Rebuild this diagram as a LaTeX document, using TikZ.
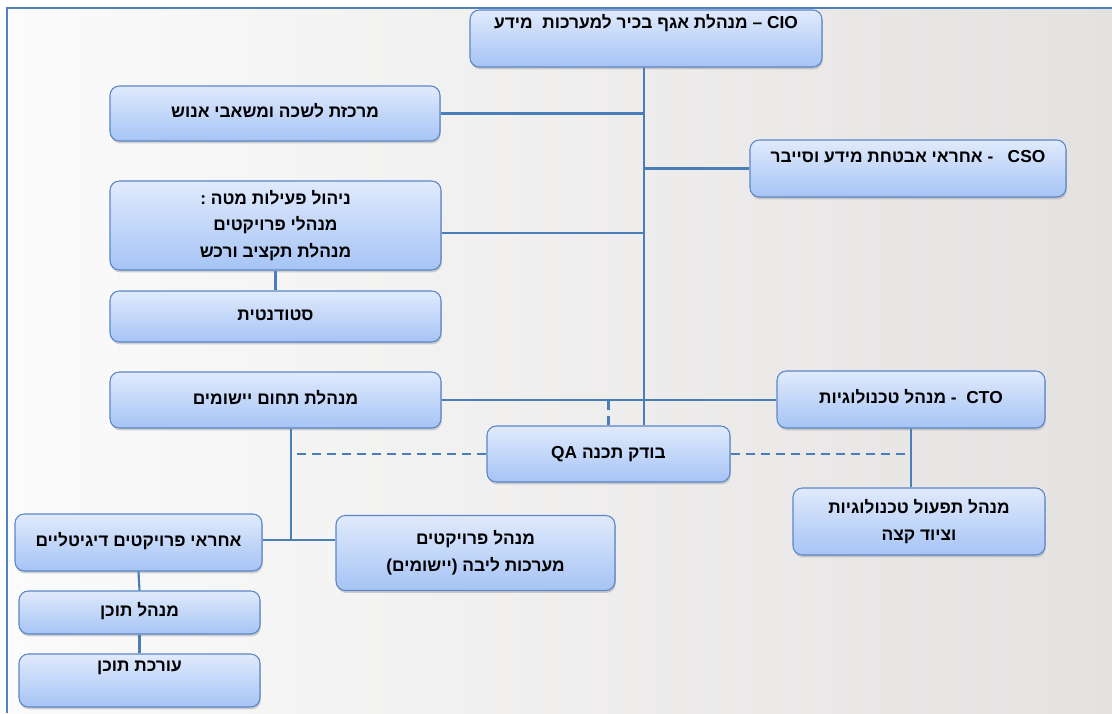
\documentclass[tikz,border=0pt]{standalone}
\usepackage{fontspec}
\setmainfont{Liberation Sans}
\newfontfamily\heb[Script=Hebrew]{Liberation Sans}
\TeXXeTstate=1
\usetikzlibrary{shadows}
\definecolor{bordc}{HTML}{5B86C8}
\definecolor{linec}{HTML}{4A7EBB}
\definecolor{topc}{HTML}{E0EAFC}
\definecolor{botc}{HTML}{A6C4F5}
\definecolor{framec}{HTML}{4F81BD}
\definecolor{bgL}{HTML}{FBFBFB}
\definecolor{bgR}{HTML}{E4E2E1}
\newcommand\heR[1]{\beginR #1\endR}
\newcommand\heL[1]{\beginL #1\endL{}}
\begin{document}
\begin{tikzpicture}[x=0.75pt,y=-0.75pt,
  box/.style={draw=bordc, line width=0.8pt, rounded corners=7pt,
    top color=topc, bottom color=botc,
    drop shadow={shadow xshift=0.6pt, shadow yshift=-1.8pt, opacity=0.35},
    font=\heb\bfseries\fontsize{13}{20}\selectfont, align=center,
    inner sep=0pt, text=black},
  one/.style={text height=9.5pt, text depth=3pt},
  conn/.style={draw=linec, line width=1.6pt},
  dashc/.style={conn, dash pattern=on 6.75pt off 4.5pt}]
\useasboundingbox (0,0) rectangle (1112,713);
\fill[white] (0,0) rectangle (1112,713);
\shade[left color=bgL, right color=bgR] (7,8) rectangle (1112,713);
\draw[framec, line width=1.2pt] (7,713) -- (7,8) -- (1112,8);

\coordinate (tx) at (644,0);
\coordinate (j) at (291,540);

\node[box, one, minimum width=264pt, minimum height=42.75pt, text depth=24pt] (cio) at (646,38.5)
  {\heR{\heL{CIO} – מנהלת אגף בכיר למערכות\ \ מידע}};
\node[box, one, minimum width=247.5pt, minimum height=41.25pt] (mrk) at (275,113.5)
  {\heR{מרכזת לשכה ומשאבי אנוש}};
\node[box, one, minimum width=237pt, minimum height=42.75pt, text depth=18.2pt] (cso) at (908,168.5)
  {\heR{\heL{CSO}\ \ \ - אחראי אבטחת מידע וסייבר}};
\node[box, minimum width=248.25pt, minimum height=66.75pt] (mateh) at (275.5,225.5)
  {\heR{ניהול פעילות מטה :}\\\heR{מנהלי פרויקטים}\\\heR{מנהלת תקציב ורכש}};
\node[box, one, minimum width=248.25pt, minimum height=38.25pt] (stud) at (275.5,316.5)
  {\heR{סטודנטית}};
\node[box, one, minimum width=248.25pt, minimum height=42pt] (app) at (275.5,400)
  {\heR{מנהלת תחום יישומים}};
\node[box, one, minimum width=201pt, minimum height=42.75pt] (cto) at (911,399.5)
  {\heR{\heL{CTO}\ \ - מנהל טכנולוגיות}};
\node[box, one, minimum width=182.25pt, minimum height=42pt] (qa) at (608.5,454)
  {\heR{בודק תכנה \heL{QA}}};
\node[box, minimum width=189pt, minimum height=50.25pt] (ops) at (919,521.5)
  {\heR{מנהל תפעול טכנולוגיות}\\\heR{וציוד קצה}};
\node[box, minimum width=209.25pt, minimum height=56.25pt] (pm) at (475.5,553)
  {\heR{מנהל פרויקטים}\\\heR{מערכות ליבה (יישומים)}};
\node[box, one, minimum width=185.25pt, minimum height=42.75pt] (dig) at (138.5,542.5)
  {\heR{אחראי פרויקטים דיגיטליים}};
\node[box, one, minimum width=180.75pt, minimum height=32.25pt] (cm) at (139.5,612.5)
  {\heR{מנהל תוכן}};
\node[box, one, minimum width=180.75pt, minimum height=39.75pt, text depth=22.7pt] (ce) at (139.5,680.5)
  {\heR{עורכת תוכן}};

\draw[conn] (cio.south -| tx) -- (qa.north -| tx);
\draw[conn] (mrk.east) -- (mrk.east -| tx);
\draw[conn] (cso.west) -- (cso.west -| tx);
\draw[conn] ([yshift=-5.6pt]mateh.east) -- ([yshift=-5.6pt]mateh.east -| tx);
\draw[conn] (mateh.south) -- (stud.north);
\draw[conn] (app.east) -- (app.east -| cto.west);
\draw[dashc] (qa.north) -- (qa.north |- app.east);
\draw[conn] (app.south -| j) -- (j);
\draw[conn] (dig.east |- j) -- (pm.west |- j);
\draw[conn] (cto.south) -- (cto.south |- ops.north);
\draw[dashc] (qa.west) -- (qa.west -| j);
\draw[dashc] (qa.east) -- (qa.east -| cto.south);
\draw[conn] (dig.south) -- (cm.north);
\draw[conn] (cm.south) -- (ce.north);
\end{tikzpicture}
\end{document}
